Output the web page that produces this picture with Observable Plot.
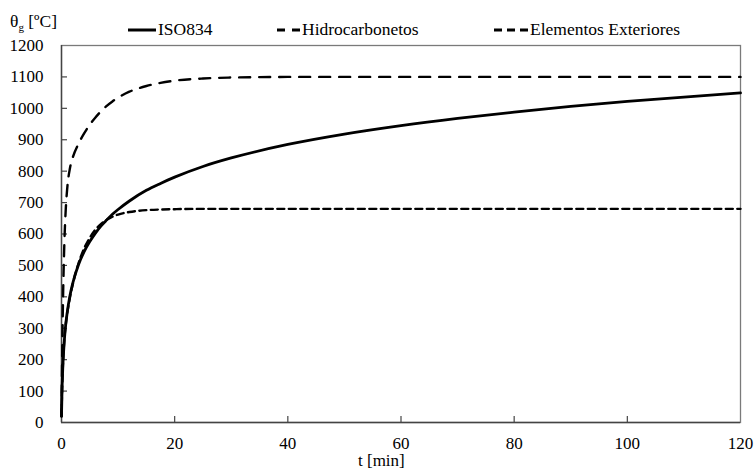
<!DOCTYPE html>
<html><head><meta charset="utf-8">
<script src="https://cdn.jsdelivr.net/npm/d3@7"></script>
<script src="https://cdn.jsdelivr.net/npm/@observablehq/plot@0.6"></script>
<style>
body{margin:0;background:#fff;font-family:'Liberation Serif','Times New Roman',serif;}
#wrap{position:relative;width:755px;height:470px;}
.ov{position:absolute;font-family:'Liberation Serif','Times New Roman',serif;font-size:17.5px;color:#000;white-space:nowrap;line-height:1;}
.leg{display:flex;align-items:center;}
</style></head>
<body><div id="wrap"></div>
<script>
const t   = [0,0.1,0.25,0.5,0.75,1,1.5,2,3,4,5,6,7,8,9,10,12,15,17.5,20,25,30,40,50,60,70,80,90,100,110,120];
const iso = [20,108,185,261,312,349,404,444,502,544,576,603,626,645,663,678,705,739,761,781,815,842,885,918,945,968,988,1006,1022,1036,1049];
const hc  = [20,187,373,568,678,743,810,844,887,920,948,971,991,1008,1022,1034,1053,1071,1081,1088,1095,1098,1100,1100,1100,1100,1100,1100,1100,1100,1100];
const ext = [20,100,182,263,311,346,399,441,506,554,588,614,632,645,655,662,670,676,678,679,680,680,680,680,680,680,680,680,680,680,680];
const xTicks = [0,20,40,60,80,100,120];
const yTicks = [0,100,200,300,400,500,600,700,800,900,1000,1100,1200];
const seriesNames = ["ISO834","Hidrocarbonetos","Elementos Exteriores"];
const xTitle = "t [min]";
const dashes = [null,"11,9","7,4.5"];
const widths = [2.8,2.4,2.4];

const W=755,H=470,mL=61,mR=15,mT=45,mB=48;
const FONT="'Liberation Serif','Times New Roman',serif";
const series=[iso,hc,ext];
const marks=[];
series.forEach((vals,i)=>{
  const data=t.map((tt,j)=>({t:tt,v:vals[j]}));
  marks.push(Plot.line(data,{x:"t",y:"v",stroke:"#000",strokeWidth:widths[i],strokeDasharray:dashes[i],curve:"monotone-x"}));
});
const chart=Plot.plot({
  width:W,height:H,marginLeft:mL,marginRight:mR,marginTop:mT,marginBottom:mB,
  style:{fontFamily:FONT,fontSize:"17px",background:"#fff",color:"#000"},
  x:{domain:[0,120]},
  y:{domain:[0,1200]},
  marks:[
    Plot.frame({stroke:"#7a7a7a",strokeWidth:1.3}),
    Plot.axisX(xTicks,{tickSize:0,tickPadding:14,fontSize:17,fontFamily:FONT,tickFormat:d3.format("d"),label:null}),
    Plot.axisY(yTicks,{tickSize:0,tickPadding:18,fontSize:17,fontFamily:FONT,tickFormat:d3.format("d"),label:null}),
    Plot.axisX(xTicks.filter(d=>d>0&&d<120),{tickSize:6,dy:-6,tickFormat:()=>"",label:null,stroke:"#444",strokeWidth:1.2}),
    Plot.axisY(yTicks.filter(d=>d>0&&d<1200),{tickSize:6,dx:6,tickFormat:()=>"",label:null,stroke:"#444",strokeWidth:1.2}),
    Plot.ruleY([0],{stroke:"#444",strokeWidth:1.4}),
    Plot.ruleX([0],{stroke:"#444",strokeWidth:1.4}),
    ...marks
  ]
});
const wrap=document.getElementById("wrap");
wrap.appendChild(chart);
function ov(html,left,top,extra){const d=document.createElement("div");d.className="ov";d.innerHTML=html;d.style.left=left+"px";d.style.top=top+"px";if(extra)Object.assign(d.style,extra);wrap.appendChild(d);return d;}
ov('θ<sub style="font-size:11px;vertical-align:-4px">g</sub> [ºC]',10,13,{fontSize:"17.5px"});
ov(xTitle,358,452,{fontSize:"17px"});
const legPos=[[128,21,28,2],[277,21,24,1],[494,21,35,1]];
seriesNames.forEach((n,i)=>{
  const [x,y,lw,gap]=legPos[i];
  const dash=i===1?"8,7":(i===2?"8,5":"none");
  ov(`<span class="leg"><svg width="${lw}" height="12" style="margin-right:${gap}px"><line x1="0" x2="${lw}" y1="6" y2="6" stroke="#000" stroke-width="3" ${dash!=="none"?`stroke-dasharray="${dash}"`:""}/></svg>${n}</span>`,x,y);
});
</script></body></html>
